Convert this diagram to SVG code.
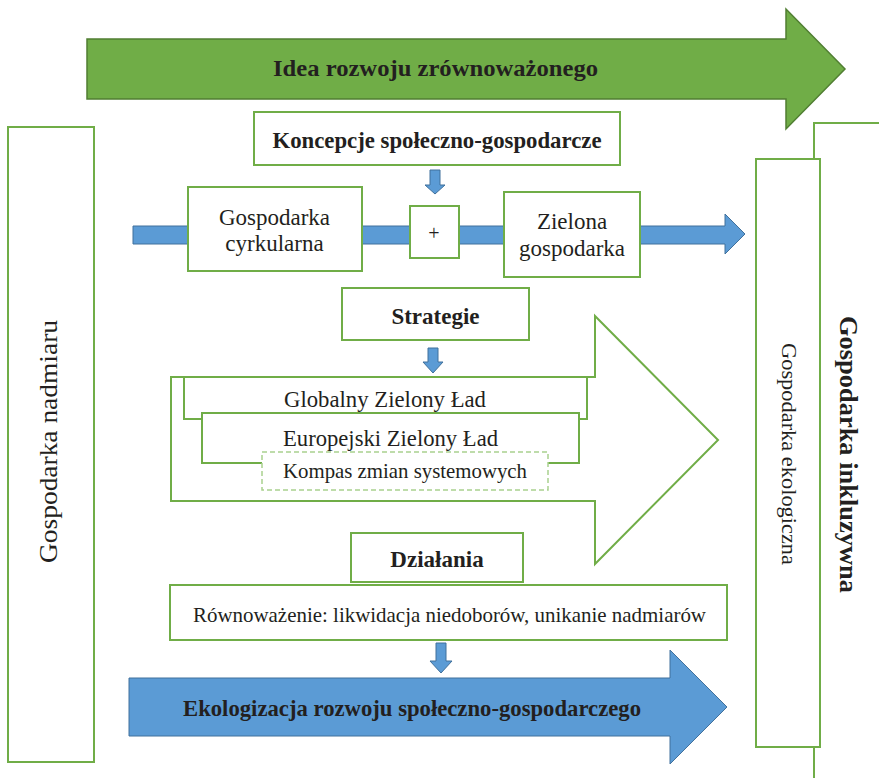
<svg xmlns="http://www.w3.org/2000/svg" width="879" height="778" viewBox="0 0 879 778">
<style>
.box{fill:#fff;stroke:#70AD47;stroke-width:2}
.dash{fill:#fff;stroke:#A9D18E;stroke-width:1.5;stroke-dasharray:5,3}
.blue{fill:#5B9BD5;stroke:#41719C;stroke-width:1}
.green{fill:#70AD47;stroke:#507E32;stroke-width:1.5}
.t{font-family:"Liberation Serif","Times New Roman",serif;fill:#231F20;text-anchor:middle}
.b{font-weight:bold}
</style>
<rect width="879" height="778" fill="#fff"/>
<g id="idea">
<polygon class="green" points="87,39 786,39 786,9 845,69 786,129 786,99 87,99"/>
<text class="t b" x="435.5" y="76" font-size="24" textLength="325" lengthAdjust="spacingAndGlyphs">Idea rozwoju zrównoważonego</text>
</g>
<g id="inkluzywna">
<rect class="box" x="814" y="123" width="100" height="700"/>
<text class="t b" font-size="26" transform="translate(840,454.5) rotate(90)" textLength="277" lengthAdjust="spacingAndGlyphs">Gospodarka inkluzywna</text>
</g>
<g id="ekologiczna">
<rect class="box" x="756" y="159" width="64" height="588"/>
<text class="t" font-size="22" transform="translate(782,454) rotate(90)" textLength="222" lengthAdjust="spacingAndGlyphs">Gospodarka ekologiczna</text>
</g>
<g id="nadmiaru">
<rect class="box" x="8" y="127" width="86" height="635"/>
<text class="t" font-size="26" transform="translate(57,441.5) rotate(-90)" textLength="243" lengthAdjust="spacingAndGlyphs">Gospodarka nadmiaru</text>
</g>
<g id="connectors">
<polygon class="blue" points="133,226 725,226 725,214 745,234 725,254 725,244 133,244"/>
<polygon class="blue" points="430,170 440,170 440,185 445,185 435,194 425,185 430,185"/>
<polygon class="blue" points="428,348 438,348 438,362 443,362 433,373 423,362 428,362"/>
<polygon class="blue" points="436,643 446,643 446,661 452,661 441,673 430,661 436,661"/>
</g>
<g id="koncepcje">
<rect class="box" x="254" y="112" width="366" height="53"/>
<text class="t b" x="437" y="148" font-size="23" textLength="329" lengthAdjust="spacingAndGlyphs">Koncepcje społeczno-gospodarcze</text>
</g>
<g id="cyrkularna">
<rect class="box" x="188" y="187" width="174" height="84"/>
<text class="t" x="274.5" y="225" font-size="23">Gospodarka</text>
<text class="t" x="274.5" y="251" font-size="23">cyrkularna</text>
</g>
<g id="plus">
<rect class="box" x="410" y="206" width="49" height="52"/>
<text class="t" x="434" y="240" font-size="20">+</text>
</g>
<g id="zielona">
<rect class="box" x="504" y="192" width="136" height="85"/>
<text class="t" x="572" y="229" font-size="23">Zielona</text>
<text class="t" x="572" y="256" font-size="23">gospodarka</text>
</g>
<g id="strategie">
<rect class="box" x="342" y="288" width="187" height="52"/>
<text class="t b" x="435.5" y="324" font-size="23">Strategie</text>
</g>
<g id="strategie-arrow">
<polygon class="box" points="171,377 595,377 595,316 718,440 595,564 595,501 171,501"/>
</g>
<g id="globalny">
<rect class="box" x="184" y="377" width="403" height="42"/>
<text class="t" x="385" y="407" font-size="23" textLength="202" lengthAdjust="spacingAndGlyphs">Globalny Zielony Ład</text>
</g>
<g id="europejski">
<rect class="box" x="202" y="413" width="377" height="50"/>
<text class="t" x="390.5" y="446" font-size="23" textLength="215" lengthAdjust="spacingAndGlyphs">Europejski Zielony Ład</text>
</g>
<g id="kompas">
<rect class="dash" x="262" y="452" width="286" height="38"/>
<text class="t" x="405" y="478" font-size="21" textLength="244" lengthAdjust="spacingAndGlyphs">Kompas zmian systemowych</text>
</g>
<g id="dzialania">
<rect class="box" x="351" y="533" width="172" height="49"/>
<text class="t b" x="437" y="567" font-size="23">Działania</text>
</g>
<g id="rownowazenie">
<rect class="box" x="170" y="585" width="557" height="55"/>
<text class="t" x="449.5" y="622" font-size="21" textLength="513" lengthAdjust="spacingAndGlyphs">Równoważenie: likwidacja niedoborów, unikanie nadmiarów</text>
</g>
<g id="ekologizacja">
<polygon class="blue" points="129,678 670,678 670,650 727,707 670,764 670,736 129,736"/>
<text class="t b" x="412" y="716" font-size="23" textLength="458" lengthAdjust="spacingAndGlyphs">Ekologizacja rozwoju społeczno-gospodarczego</text>
</g>
</svg>
